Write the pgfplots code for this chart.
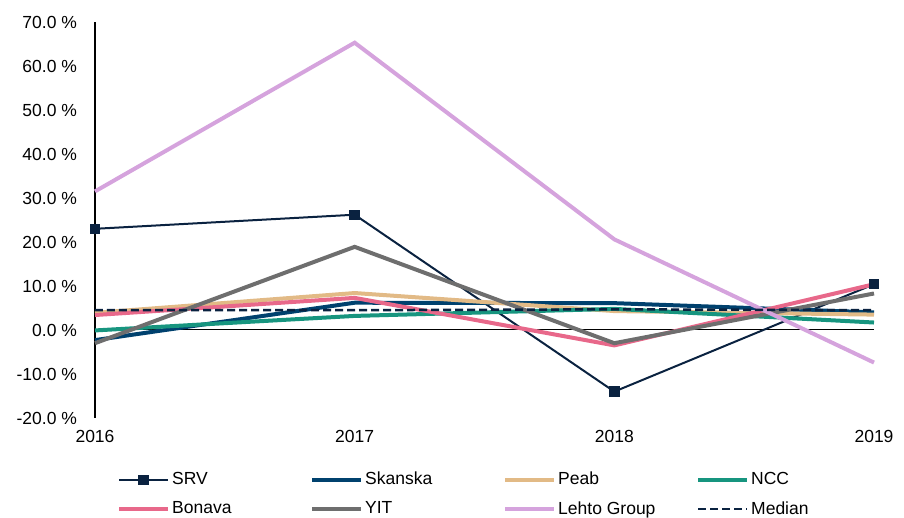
\documentclass[border=0pt]{standalone}
\usepackage{fontspec}
\setmainfont{Liberation Sans}
\usepackage{pgfplots}
\pgfplotsset{compat=1.18}
\definecolor{srv}{HTML}{0A2240}
\definecolor{skanska}{HTML}{00416E}
\definecolor{peab}{HTML}{E2BA86}
\definecolor{ncc}{HTML}{17957F}
\definecolor{bonava}{HTML}{E8688A}
\definecolor{yit}{HTML}{6E6E6E}
\definecolor{lehto}{HTML}{D5A3DD}
\begin{document}
\fontsize{17.5}{21}\selectfont
\begin{tikzpicture}
\useasboundingbox (-95pt,-100pt) rectangle (809pt,418pt);
\begin{axis}[
  at={(0pt,0pt)}, anchor=south west,
  scale only axis,
  width=779pt, height=396pt,
  xmin=2016, xmax=2019,
  ymin=-20, ymax=70,
  xtick={2016,2017,2018,2019},
  xticklabels={2016,2017,2018,2019},
  ytick={-20,-10,...,70},
  yticklabel={\pgfmathprintnumber[fixed,fixed zerofill,precision=1]{\tick}~\%},
  /pgf/number format/assume math mode=true,
  axis x line*=bottom,
  axis y line*=left,
  x axis line style={draw=none},
  y axis line style={black, line width=1.2pt},
  major tick length=0pt,
  yticklabel style={xshift=-12pt},
  xticklabel style={yshift=-6pt},
  tick label style={font=\fontsize{17.5}{21}\selectfont},
  clip=false,
  legend columns=4,
  legend style={draw=none, at={(axis description cs:0,0)}, anchor=north west,
    xshift=22pt, yshift=-52pt, font=\fontsize{17.5}{21}\selectfont,
    column sep=0pt, row sep=10pt, inner sep=0pt,
    /tikz/every even column/.append style={column sep=0pt}},
  legend cell align=left,
  legend image code/.code={\draw[mark repeat=2,mark phase=2,#1] plot coordinates {(0pt,0pt)(24.5pt,0pt)(49pt,0pt)};},
]
\addplot[black, line width=1pt, forget plot] coordinates {(2016,0)(2019,0)};
\addplot[srv, line width=2pt, mark=square*, mark size=4.2pt, mark options={solid}] coordinates {(2016,23.0)(2017,26.2)(2018,-14.0)(2019,10.4)};
\addlegendentry{\makebox[136pt][l]{SRV}}
\addplot[skanska, line width=4pt] coordinates {(2016,-2.3)(2017,6.2)(2018,6.1)(2019,4.0)};
\addlegendentry{\makebox[136pt][l]{Skanska}}
\addplot[peab, line width=4pt] coordinates {(2016,3.9)(2017,8.4)(2018,4.3)(2019,3.5)};
\addlegendentry{\makebox[136pt][l]{Peab}}
\addplot[ncc, line width=4pt] coordinates {(2016,-0.1)(2017,3.2)(2018,4.8)(2019,1.7)};
\addlegendentry{\makebox[136pt][l]{NCC}}
\addplot[bonava, line width=4pt] coordinates {(2016,3.4)(2017,7.3)(2018,-3.5)(2019,10.4)};
\addlegendentry{\makebox[136pt][l]{Bonava}}
\addplot[yit, line width=4pt] coordinates {(2016,-3.0)(2017,18.9)(2018,-3.0)(2019,8.3)};
\addlegendentry{\makebox[136pt][l]{YIT}}
\addplot[lehto, line width=4pt] coordinates {(2016,31.5)(2017,65.3)(2018,20.6)(2019,-7.4)};
\addlegendentry{\makebox[136pt][l]{Lehto Group}}
\addplot[srv, line width=2.5pt, dash pattern=on 8pt off 4pt] coordinates {(2016,4.5)(2017,4.5)(2018,4.7)(2019,4.5)};
\addlegendentry{\makebox[136pt][l]{Median}}
\end{axis}
\end{tikzpicture}
\end{document}
